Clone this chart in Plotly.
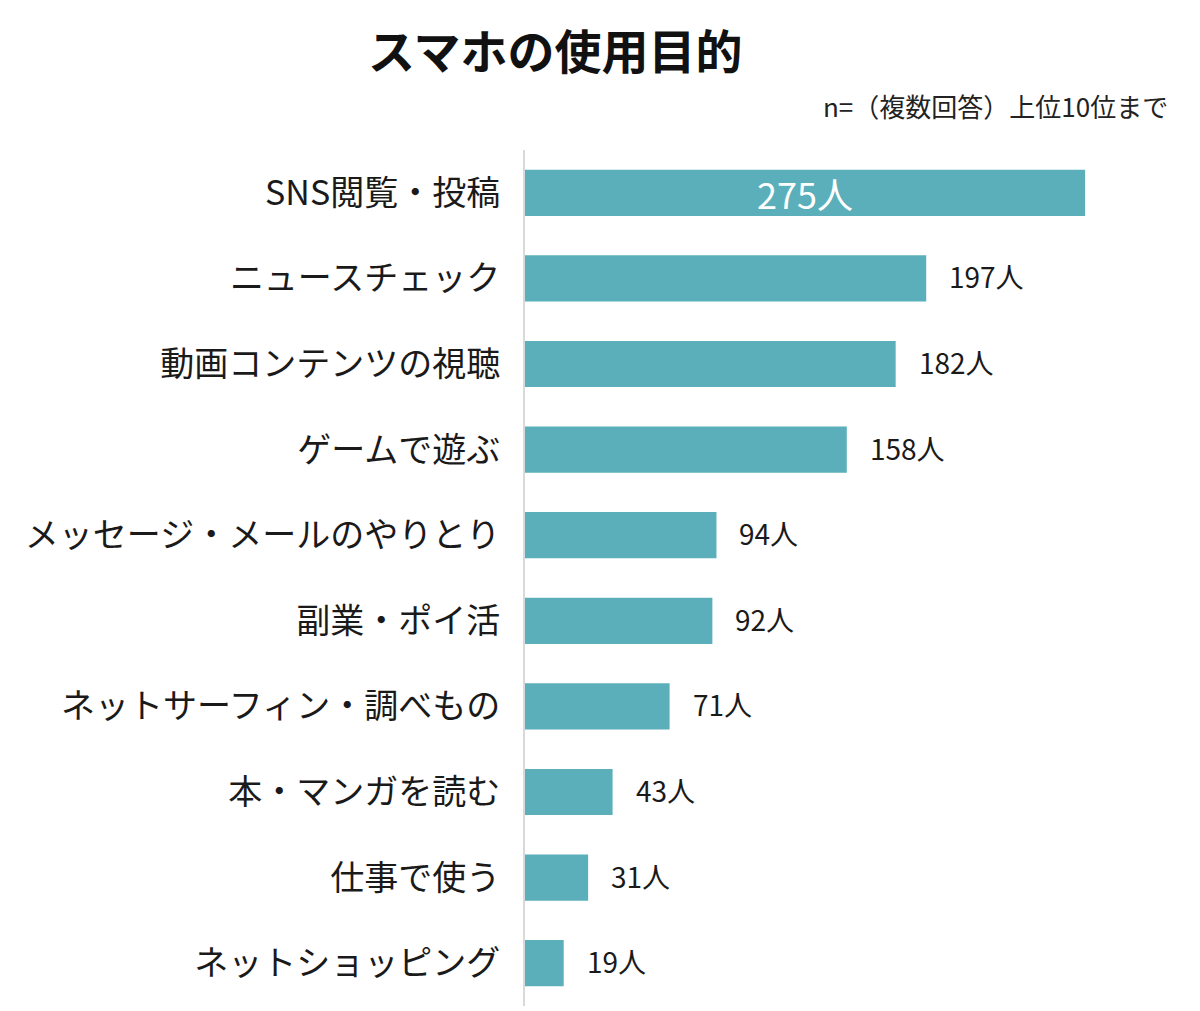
import plotly.graph_objects as go

categories = [
    "SNS閲覧・投稿",
    "ニュースチェック",
    "動画コンテンツの視聴",
    "ゲームで遊ぶ",
    "メッセージ・メールのやりとり",
    "副業・ポイ活",
    "ネットサーフィン・調べもの",
    "本・マンガを読む",
    "仕事で使う",
    "ネットショッピング",
]
values = [275, 197, 182, 158, 94, 92, 71, 43, 31, 19]
unit = "人"

FONT = "Noto Sans CJK JP"
BAR_COLOR = "#5AAFBA"

# page has an 8px body margin; compensate
OFF = 8
PLOT_L = 525
PLOT_W = 611

fig = go.Figure(
    go.Bar(
        x=values,
        y=categories,
        orientation="h",
        marker=dict(color=BAR_COLOR, line=dict(width=0)),
        width=0.54,
        hoverinfo="skip",
    )
)

annotations = []
for i, (c, v) in enumerate(zip(categories, values)):
    if i == 0:
        annotations.append(dict(
            x=v / 2, y=c, text=f"{v}{unit}", showarrow=False,
            xanchor="center", yanchor="middle",
            font=dict(family=FONT, size=36, color="white"),
        ))
    else:
        annotations.append(dict(
            x=v, y=c, text=f"{v}{unit}", showarrow=False,
            xanchor="left", yanchor="middle", xshift=21, yshift=2,
            font=dict(family=FONT, size=28, color="#1a1a1a"),
        ))

annotations.append(dict(
    text="スマホの使用目的", xref="paper", yref="paper",
    x=(555 - PLOT_L) / PLOT_W, y=1, yshift=102, xanchor="center", yanchor="middle",
    showarrow=False, font=dict(family=FONT, size=47, color="#111111", weight="bold"),
))
annotations.append(dict(
    text="n=（複数回答）上位10位まで", xref="paper", yref="paper",
    x=(1170 - PLOT_L) / PLOT_W, y=1, yshift=45, xanchor="right", yanchor="middle",
    showarrow=False, font=dict(family=FONT, size=26, color="#222222"),
))

fig.update_layout(
    width=1200 - OFF, height=1011 - OFF,
    margin=dict(l=PLOT_L - OFF, r=1200 - PLOT_L - PLOT_W, t=150 - OFF, b=5),
    paper_bgcolor="white", plot_bgcolor="white",
    showlegend=False,
    annotations=annotations,
    bargap=0.46,
    xaxis=dict(range=[0, 300], visible=False, fixedrange=True),
    yaxis=dict(
        autorange="reversed",
        showline=True, linecolor="#d9d9d9", linewidth=2,
        showgrid=False, zeroline=False, ticks="",
        ticklabelstandoff=16,
        tickfont=dict(family=FONT, size=34, color="#1a1a1a"),
        fixedrange=True,
    ),
)

fig.write_html("out.html")
